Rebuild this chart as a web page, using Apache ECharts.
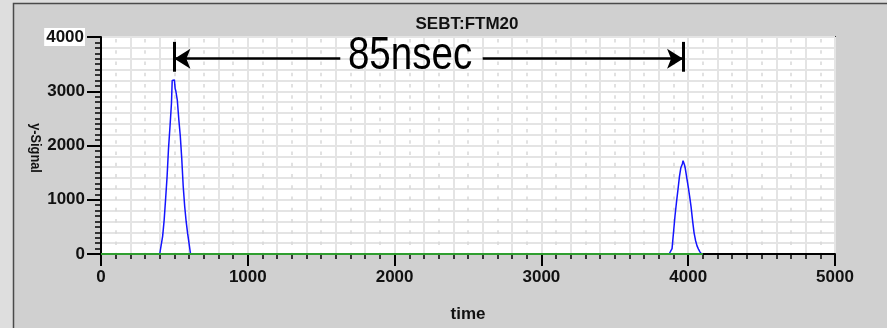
<!DOCTYPE html>
<html>
<head>
<meta charset="utf-8">
<title>SEBT:FTM20</title>
<script src="https://cdn.jsdelivr.net/npm/echarts@6/dist/echarts.min.js"></script>
<style>
  html, body { margin: 0; padding: 0; background: #dedede; overflow: hidden; }
  #chart { width: 887px; height: 328px; }
</style>
</head>
<body>
<div id="chart"></div>
<script>
// Signal trace: first bunch
const peakATime   = [400, 410, 420, 430, 440, 450, 460, 470, 480, 485, 490, 495, 500, 505, 510, 520, 530, 540, 550, 560, 570, 580, 590, 600, 610, 620];
const peakACounts = [0, 0, 330, 620, 1010, 1420, 1950, 2350, 2780, 3200, 3180, 3230, 3210, 3050, 3000, 2830, 2480, 2180, 1760, 1250, 880, 600, 380, 190, 0, 0];
// Signal trace: second bunch
const peakBTime   = [3870, 3880, 3890, 3900, 3910, 3920, 3930, 3940, 3950, 3960, 3965, 3970, 3975, 3980, 3990, 4000, 4010, 4020, 4030, 4040, 4050, 4060, 4070, 4080, 4090, 4100];
const peakBCounts = [0, 0, 100, 400, 700, 950, 1180, 1420, 1590, 1660, 1720, 1700, 1640, 1580, 1410, 1240, 1060, 860, 610, 390, 250, 150, 90, 40, 0, 0];
// Baseline trace
const baseTime   = [0, 4100];
const baseCounts = [0, 0];

// Axis ranges
const xRange = [0, 5000];
const yRange = [0, 4000];

// Bunch-spacing annotation
const spanStart = 500;
const spanEnd = 3965;
const spanLevel = 3600;
const spanBarTop = 3910;
const spanBarBottom = 3360;
const spanGapLeft = 1630;
const spanGapRight = 2600;
const spanText = '85nsec';
const spanTextAt = [2105, 3640];

const titleText = 'SEBT:FTM20';
const xName = 'time';
const yName = 'y-Signal';

const FONT = '"Liberation Sans", Arial, sans-serif';

const signal = peakATime.map((t, i) => [t, peakACounts[i]])
  .concat(peakBTime.map((t, i) => [t, peakBCounts[i]]));
const baseline = baseTime.map((t, i) => [t, baseCounts[i]]);

const chart = echarts.init(document.getElementById('chart'), null, { renderer: 'canvas' });

const hiddenAxis = {
  axisLine: { show: false },
  axisTick: { show: false },
  axisLabel: { show: false }
};

const option = {
  animation: false,
  backgroundColor: '#dedede',
  graphic: [
    {
      id: 'panel', type: 'rect', z: -100, silent: true,
      shape: { x: 13.5, y: 3.5, width: 1000, height: 500 },
      style: { fill: '#d0d0d0', stroke: '#4a4a4a', lineWidth: 1.5 }
    },
    {
      id: 'title', type: 'text', x: 467, y: 24, silent: true,
      style: { text: titleText, font: 'bold 17px ' + FONT, fill: '#111', align: 'center', verticalAlign: 'middle' }
    },
    {
      id: 'yname', type: 'text', x: 35, y: 148, rotation: -Math.PI / 2, scaleX: 0.85, silent: true,
      style: { text: yName, font: 'bold 15px ' + FONT, fill: '#111', align: 'center', verticalAlign: 'middle' }
    }
  ],
  grid: {
    left: 101, top: 37, width: 734, height: 225,
    show: true, backgroundColor: '#ffffff', borderColor: '#3c3c3c', borderWidth: 2
  },
  xAxis: [
    {
      type: 'value', min: xRange[0], max: xRange[1], interval: 1000,
      name: xName, nameLocation: 'middle', nameGap: 52,
      nameTextStyle: { fontFamily: FONT, fontWeight: 'bold', fontSize: 17, color: '#111' },
      axisLine: { lineStyle: { color: '#000', width: 2 } },
      axisTick: { length: 12, lineStyle: { color: '#000', width: 2 } },
      minorTick: { show: true, splitNumber: 10, length: 5, lineStyle: { color: '#000', width: 1.5 } },
      axisLabel: { margin: 15, fontFamily: FONT, fontWeight: 'bold', fontSize: 17, color: '#111', formatter: v => String(v) },
      splitLine: { show: false }
    },
    Object.assign({
      type: 'value', min: xRange[0], max: xRange[1], interval: 100,
      splitLine: { show: true, lineStyle: { color: '#d8d8d8', width: 1.5, type: [3.5, 7.75], dashOffset: -2 } }
    }, hiddenAxis),
    Object.assign({
      type: 'value', min: xRange[0], max: xRange[1], interval: 200,
      splitLine: { show: true, lineStyle: { color: '#e4e4e4', width: 2 } }
    }, hiddenAxis)
  ],
  yAxis: [
    {
      type: 'value', min: yRange[0], max: yRange[1], interval: 1000,
      axisLine: { show: true, lineStyle: { color: '#000', width: 2 } },
      axisTick: { show: true, length: 14, lineStyle: { color: '#000', width: 2 } },
      minorTick: { show: true, splitNumber: 10, length: 6, lineStyle: { color: '#000', width: 1.5 } },
      axisLabel: {
        margin: 16, fontFamily: FONT, fontWeight: 'bold', fontSize: 17, color: '#111',
        formatter: v => (v === yRange[1] ? '{hi|' + v + '}' : String(v)),
        rich: { hi: { backgroundColor: '#ffffff', padding: [1, 1, 0, 2], fontFamily: FONT, fontWeight: 'bold', fontSize: 17, color: '#111' } }
      },
      splitLine: { show: false }
    },
    Object.assign({
      type: 'value', min: yRange[0], max: yRange[1], interval: 200,
      splitLine: { show: true, lineStyle: { color: '#e4e4e4', width: 2 } }
    }, hiddenAxis)
  ],
  series: [
    {
      name: 'signal', type: 'line', data: signal, showSymbol: false, symbol: 'none',
      lineStyle: { color: '#1414ff', width: 1.5 }, z: 3
    },
    {
      name: 'baseline', type: 'line', data: baseline, showSymbol: false, symbol: 'none',
      lineStyle: { color: '#2f9e2f', width: 2 }, z: 4,
      markLine: {
        silent: true, animation: false, symbol: ['none', 'none'],
        label: { show: false },
        lineStyle: { color: '#000', width: 2.5, type: 'solid' },
        data: [
          [{ coord: [spanStart, spanLevel], symbol: 'arrow', symbolSize: [15, 16] }, { coord: [spanGapLeft, spanLevel], symbol: 'none' }],
          [{ coord: [spanGapRight, spanLevel], symbol: 'none' }, { coord: [spanEnd, spanLevel], symbol: 'arrow', symbolSize: [15, 16] }],
          [{ coord: [spanStart, spanBarTop], lineStyle: { width: 3 } }, { coord: [spanStart, spanBarBottom] }],
          [{ coord: [spanEnd, spanBarTop], lineStyle: { width: 3 } }, { coord: [spanEnd, spanBarBottom] }]
        ]
      }
    }
  ]
};

chart.setOption(option);

// Condensed annotation text, placed at its data position
const textPos = chart.convertToPixel({ xAxisIndex: 0, yAxisIndex: 0 }, spanTextAt);
chart.setOption({
  graphic: [{
    id: 'spanText', type: 'text', x: textPos[0], y: textPos[1], scaleX: 0.82, silent: true, z: 10,
    style: { text: spanText, font: '47px ' + FONT, fill: '#000', align: 'center', verticalAlign: 'middle' }
  }]
});
</script>
</body>
</html>
